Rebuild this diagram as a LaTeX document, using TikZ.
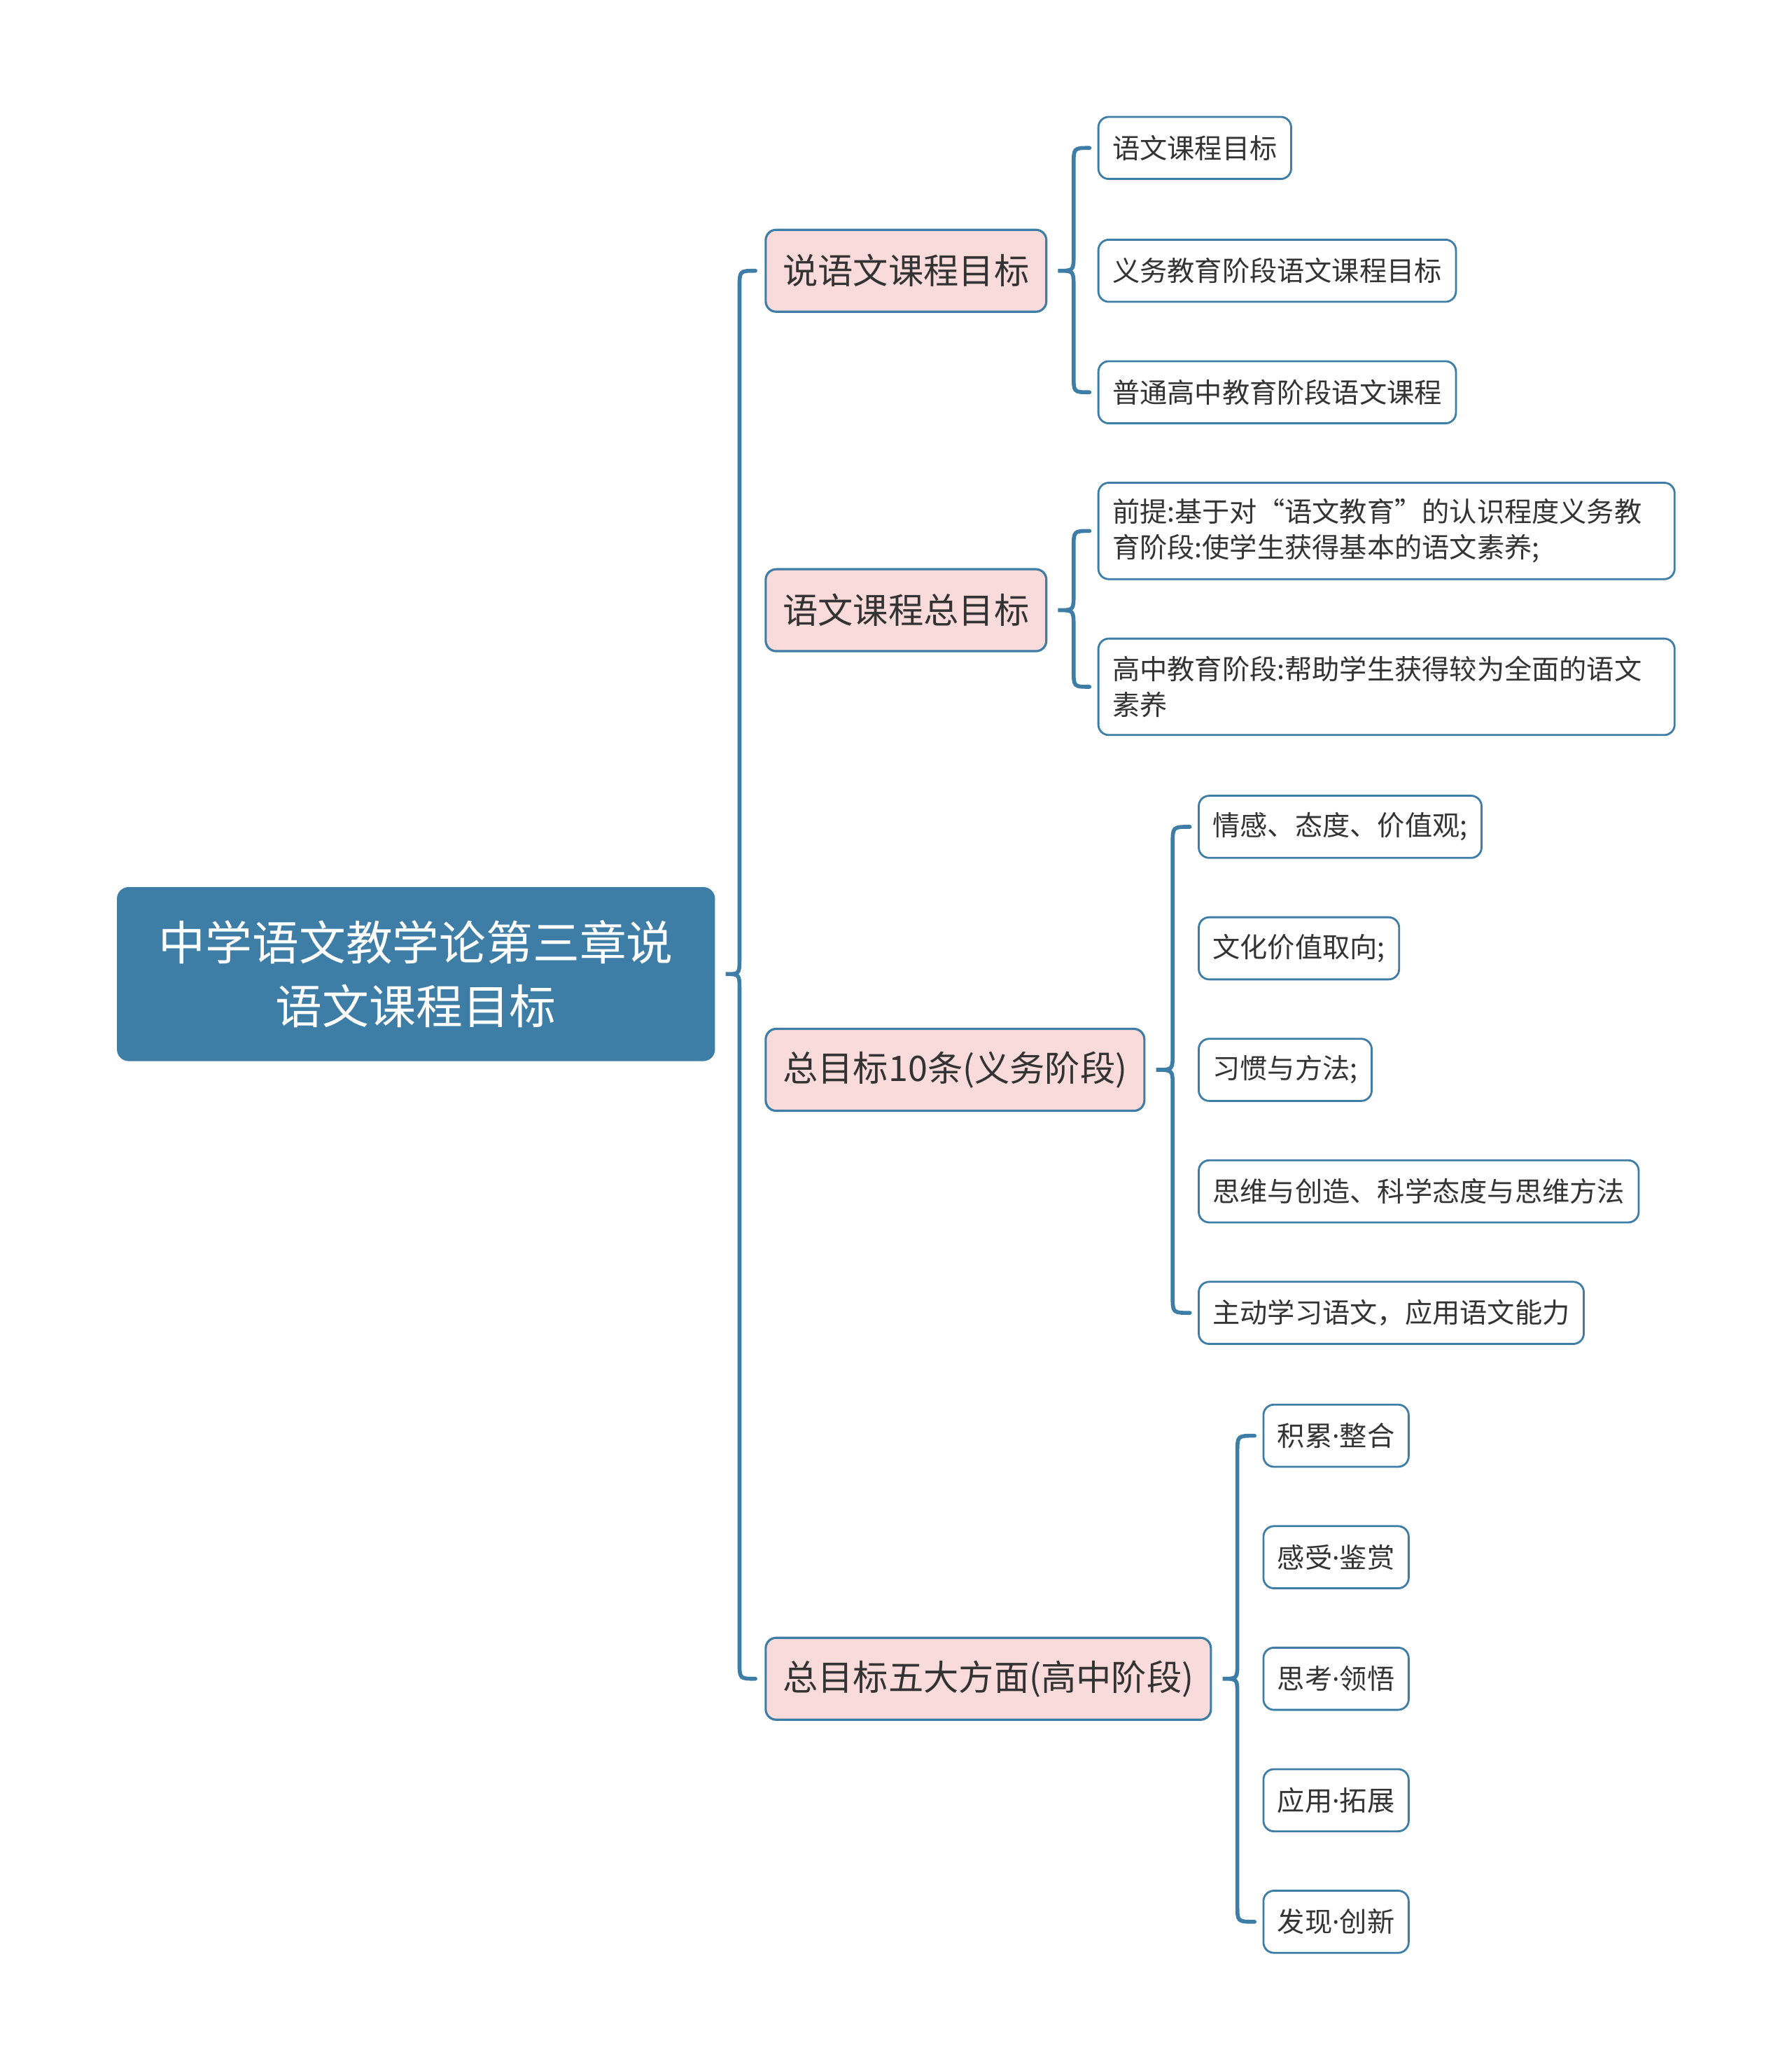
\documentclass[tikz,border=0pt]{standalone}
\usepackage{fontspec}
\setmainfont{Noto Sans CJK SC}
\newfontfamily\latinfont{Noto Sans}
\usepackage{tikz}
\usetikzlibrary{calc}
\usepackage{xcolor}
\definecolor{mapblue}{RGB}{62,125,165}
\definecolor{mappink}{RGB}{250,219,219}
\definecolor{maptext}{RGB}{51,51,51}
\newcommand{\middot}{{\latinfont ·}}

\begin{document}
\begin{tikzpicture}[x=0.018865cm,y=-0.018865cm,line cap=round,
  mainbox/.style={draw=mapblue,fill=mapblue,rounded corners=0.16cm,text=white,font=\fontsize{19}{25.7}\selectfont,minimum width=8.527cm,minimum height=2.471cm,align=center},
  topicbox/.style={draw=mapblue,line width=0.9pt,fill=mappink,rounded corners=0.15cm,text=maptext,font=\fontsize{14.3}{17}\selectfont,anchor=west,inner xsep=0.245cm,minimum height=1.17cm},
  leafbox/.style={draw=mapblue,line width=0.8pt,fill=white,rounded corners=0.15cm,text=maptext,font=\fontsize{11.16}{14.4}\selectfont,anchor=west,inner xsep=0.2cm,minimum height=0.887cm},
  longleaf/.style={leafbox,text width=7.83cm,align=left,minimum height=1.377cm},
  bracelink/.style={draw=mapblue,line width=1.6pt}]
\useasboundingbox (0,0) rectangle (1357,1568);

% root
\node[mainbox] (goal) at (315,737.5) {中学语文教学论第三章说\\语文课程目标};

% main branches
\node[topicbox] (say) at (579,205) {说语文课程目标};
\node[topicbox] (total) at (579,462) {语文课程总目标};
\node[topicbox] (compul) at (579,810) {总目标10条(义务阶段)};
\node[topicbox] (senior) at (579,1271) {总目标五大方面(高中阶段)};

% leaves
\node[leafbox] (sayA) at (831,112) {语文课程目标};
\node[leafbox] (sayB) at (831,205) {义务教育阶段语文课程目标};
\node[leafbox] (sayC) at (831,297) {普通高中教育阶段语文课程};

\node[longleaf] (totA) at (831,402) {前提:基于对“语文教育”的认识程度义务教\\育阶段:使学生获得基本的语文素养;};
\node[longleaf] (totB) at (831,520) {高中教育阶段:帮助学生获得较为全面的语文\\素养};

\node[leafbox] (comA) at (907,626) {情感、态度、价值观;};
\node[leafbox] (comB) at (907,718) {文化价值取向;};
\node[leafbox] (comC) at (907,810) {习惯与方法;};
\node[leafbox] (comD) at (907,902) {思维与创造、科学态度与思维方法};
\node[leafbox] (comE) at (907,994) {主动学习语文，应用语文能力};

\node[leafbox] (senA) at (956,1087) {积累\middot 整合};
\node[leafbox] (senB) at (956,1179) {感受\middot 鉴赏};
\node[leafbox] (senC) at (956,1271) {思考\middot 领悟};
\node[leafbox] (senD) at (956,1363) {应用\middot 拓展};
\node[leafbox] (senE) at (956,1455) {发现\middot 创新};

% brace trunks
\coordinate (t0) at (560,0);
\coordinate (t1) at (813,0);
\coordinate (t3) at (888,0);
\coordinate (t4) at (937,0);

% braces
\draw[bracelink] ($(say.west)+(-7,0)$) .. controls (t0 |- say.west) .. ($(t0 |- say.west)+(0,13)$)
  -- ($(t0 |- goal.east)+(0,-12)$) .. controls (t0 |- goal.east) .. ($(goal.east)+(8,0)$)
  .. controls (t0 |- goal.east) .. ($(t0 |- goal.east)+(0,12)$)
  -- ($(t0 |- senior.west)+(0,-13)$) .. controls (t0 |- senior.west) .. ($(senior.west)+(-7,0)$);

\draw[bracelink] ($(sayA.west)+(-6,0)$) .. controls (t1 |- sayA.west) .. ($(t1 |- sayA.west)+(0,13)$)
  -- ($(t1 |- say.east)+(0,-12)$) .. controls (t1 |- say.east) .. ($(say.east)+(8,0)$)
  .. controls (t1 |- say.east) .. ($(t1 |- say.east)+(0,12)$)
  -- ($(t1 |- sayC.west)+(0,-13)$) .. controls (t1 |- sayC.west) .. ($(sayC.west)+(-6,0)$);

\draw[bracelink] ($(totA.west)+(-6,0)$) .. controls (t1 |- totA.west) .. ($(t1 |- totA.west)+(0,13)$)
  -- ($(t1 |- total.east)+(0,-12)$) .. controls (t1 |- total.east) .. ($(total.east)+(8,0)$)
  .. controls (t1 |- total.east) .. ($(t1 |- total.east)+(0,12)$)
  -- ($(t1 |- totB.west)+(0,-13)$) .. controls (t1 |- totB.west) .. ($(totB.west)+(-6,0)$);

\draw[bracelink] ($(comA.west)+(-6,0)$) .. controls (t3 |- comA.west) .. ($(t3 |- comA.west)+(0,13)$)
  -- ($(t3 |- compul.east)+(0,-12)$) .. controls (t3 |- compul.east) .. ($(compul.east)+(8,0)$)
  .. controls (t3 |- compul.east) .. ($(t3 |- compul.east)+(0,12)$)
  -- ($(t3 |- comE.west)+(0,-13)$) .. controls (t3 |- comE.west) .. ($(comE.west)+(-6,0)$);

\draw[bracelink] ($(senA.west)+(-6,0)$) .. controls (t4 |- senA.west) .. ($(t4 |- senA.west)+(0,13)$)
  -- ($(t4 |- senior.east)+(0,-12)$) .. controls (t4 |- senior.east) .. ($(senior.east)+(8,0)$)
  .. controls (t4 |- senior.east) .. ($(t4 |- senior.east)+(0,12)$)
  -- ($(t4 |- senE.west)+(0,-13)$) .. controls (t4 |- senE.west) .. ($(senE.west)+(-6,0)$);
\end{tikzpicture}
\end{document}
